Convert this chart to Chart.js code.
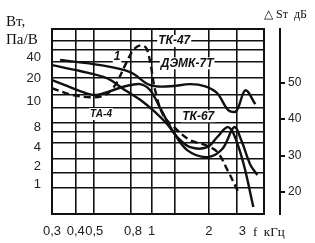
<!DOCTYPE html>
<html>
<head>
<meta charset="utf-8">
<script src="https://cdn.jsdelivr.net/npm/chart.js@4"></script>
<style>
  body { margin: 0; background: #fff; }
  canvas { display: block; }
</style>
</head>
<body>
<canvas id="myChart" width="315" height="243"></canvas>
<script>
// frequency axis, kHz (log)
var xTickValues = [0.3, 0.4, 0.5, 0.8, 1, 2, 3]
var xTickLabels = ['0,3', '0,4', '0,5', '0,8', '1', '2', '3']
var xGridValues = [0.4, 0.5, 0.78, 1, 1.33, 2, 2.8]

// right axis, dB
var rightTickValues = [20, 30, 40, 50]
// left axis labels (W, Pa/V) and where they sit on the dB scale
var leftTickLabels = ['40', '20', '10', '8', '4', '2', '1']
var leftTickPos = [57.0, 51.2, 44.9, 37.8, 32.3, 27.1, 22.2]
var yGridValues = [61.6, 58.9, 55.6, 51.2, 46.6, 43.0, 38.9, 36.4, 33.4, 29.0, 25.4, 21.1]

// curves: frequency (kHz) / level (dB)
var demkF  = [0.331, 0.537, 0.772, 0.984, 1.254, 1.597, 1.916, 2.216, 2.531, 2.789, 3.111, 3.513]
var demkDb = [56.2, 54.8, 52.9, 49.3, 49.0, 49.6, 49.0, 47.1, 42.5, 42.2, 47.9, 44.1]

var tk67F  = [0.3, 0.421, 0.584, 0.727, 0.872, 1.045, 1.209, 1.381, 1.597, 1.963, 2.216, 2.501, 2.690, 3.037, 3.429]
var tk67Db = [54.8, 53.2, 51.2, 47.9, 45.3, 41.9, 38.6, 34.8, 32.3, 32.3, 35.1, 37.8, 36.2, 28.0, 15.9]

var ta4F  = [0.3, 0.351, 0.421, 0.505, 0.606, 0.727, 0.872, 0.984, 1.111, 1.285, 1.540, 1.963, 2.354, 2.722, 2.963, 3.305, 3.598]
var ta4Db = [50.7, 49.3, 47.7, 46.6, 47.7, 49.0, 49.6, 47.9, 43.0, 37.0, 31.5, 29.6, 31.8, 37.8, 34.2, 27.5, 24.7]

var tk47F  = [0.3, 0.373, 0.475, 0.570, 0.644, 0.727, 0.801, 0.872, 0.937, 0.984, 1.045, 1.152, 1.332, 1.597, 1.916, 2.216, 2.531, 2.858]
var tk47Db = [48.5, 46.8, 46.0, 46.6, 49.3, 54.8, 58.9, 60.2, 59.5, 55.6, 47.9, 41.1, 37.5, 34.2, 32.9, 31.0, 25.6, 20.0]

// curve captions
var noteTexts = ['ТК-47', 'ДЭМК-7Т', 'ТА-4', 'ТК-67', '1']
var noteF = [1.316, 1.539, 0.543, 1.76, 0.659]
var noteDb = [61.4, 55.3, 41.4, 40.8, 57.0]

var yMin = 14.0
var yMax = 64.7

function pts(f, db) {
  var out = []
  for (var i in f) {
    out.push({ x: f[i], y: db[i] })
  }
  return out
}

function curve(label, f, db, dash) {
  return {
    label: label,
    data: pts(f, db),
    yAxisID: 'yr',
    borderColor: '#111',
    borderWidth: 2.4,
    borderDash: dash || [],
    pointRadius: 0,
    tension: 0.35,
    fill: false
  }
}

var decor = {
  id: 'decor',
  beforeDatasetsDraw: function(chart) {
    var c = chart.ctx, a = chart.chartArea
    c.save()
    c.strokeStyle = '#111'
    c.lineWidth = 2
    c.strokeRect(a.left, a.top, a.right - a.left, a.bottom - a.top)

    var sx = chart.scales.x, sy = chart.scales.yr
    c.textAlign = 'center'
    c.textBaseline = 'middle'
    for (var i in noteTexts) {
      var px = sx.getPixelForValue(noteF[i])
      var py = sy.getPixelForValue(noteDb[i])
      c.font = (noteTexts[i] == 'ТА-4' ? 'italic bold 10px' : 'italic bold 12px') + ' "Liberation Sans"'
      var w = c.measureText(noteTexts[i]).width
      c.fillStyle = '#fff'
      c.fillRect(px - w / 2 - 1, py - 6, w + 2, 12)
      c.fillStyle = '#111'
      c.fillText(noteTexts[i], px, py)
    }
    c.restore()
  },
  afterDraw: function(chart) {
    var c = chart.ctx
    c.save()
    c.fillStyle = '#111'
    c.textBaseline = 'alphabetic'
    c.textAlign = 'left'
    c.font = '15px "Liberation Serif"'
    c.fillText('Вт,', 6, 26)
    c.fillText('Па/В', 6, 44)
    c.font = '12px "Liberation Serif"'
    c.fillText('△ Sт  дБ', 264, 18)
    c.font = '13px "Liberation Serif"'
    c.fillText('f  кГц', 253, 236)
    c.restore()
  }
}

document.addEventListener("DOMContentLoaded", function(event) {

var tickFont = { family: 'Liberation Sans', size: 13 }

var ctx = document.getElementById("myChart");
var myChart = new Chart(ctx, {
  type: 'line',
  data: {
    datasets: [
      curve('ДЭМК-7Т', demkF, demkDb),
      curve('ТК-67', tk67F, tk67Db),
      curve('ТА-4', ta4F, ta4Db),
      curve('ТК-47', tk47F, tk47Db, [7, 4])
    ]
  },
  options: {
    responsive: false,
    animation: false,
    layout: { padding: 0 },
    plugins: { legend: { display: false }, tooltip: { enabled: false } },
    scales: {
      x: {
        type: 'logarithmic', position: 'bottom', min: 0.3, max: 3.9,
        afterBuildTicks: function(s) { s.ticks = xTickValues.map(function(v) { return { value: v } }) },
        afterFit: function(s) { s.height = 29 },
        ticks: {
          autoSkip: false, maxRotation: 0, padding: 10, color: '#222', font: tickFont,
          callback: function(v, i) { return xTickLabels[i] }
        },
        grid: { drawOnChartArea: false, drawTicks: false },
        border: { display: false }
      },
      xg: {
        type: 'logarithmic', position: 'top', min: 0.3, max: 3.9,
        afterBuildTicks: function(s) { s.ticks = xGridValues.map(function(v) { return { value: v } }) },
        afterFit: function(s) { s.height = 29 },
        ticks: { display: false },
        grid: { color: '#111', lineWidth: 1.6, drawTicks: false },
        border: { display: false }
      },
      y: {
        type: 'linear', position: 'left', min: yMin, max: yMax,
        afterBuildTicks: function(s) { s.ticks = leftTickPos.map(function(v) { return { value: v } }) },
        afterFit: function(s) { s.width = 52 },
        ticks: {
          padding: 11, color: '#222', font: tickFont,
          callback: function(v, i) { return leftTickLabels[i] }
        },
        grid: { drawOnChartArea: false, drawTicks: false },
        border: { display: false }
      },
      yg: {
        type: 'linear', position: 'right', weight: 0, min: yMin, max: yMax,
        afterBuildTicks: function(s) { s.ticks = yGridValues.map(function(v) { return { value: v } }) },
        afterFit: function(s) { s.width = 16 },
        ticks: { display: false },
        grid: { color: '#111', lineWidth: 1.6, drawTicks: false },
        border: { display: false }
      },
      yr: {
        type: 'linear', position: 'right', weight: 1, min: yMin, max: yMax,
        afterBuildTicks: function(s) { s.ticks = rightTickValues.map(function(v) { return { value: v } }) },
        afterFit: function(s) { s.width = 35 },
        ticks: { padding: 3, color: '#222', font: { family: 'Liberation Sans', size: 12 } },
        grid: { drawOnChartArea: false, drawTicks: true, tickLength: 5, color: '#111', lineWidth: 2 },
        border: { display: true, color: '#111', width: 2 }
      }
    }
  },
  plugins: [decor]
});

});
</script>
</body>
</html>
